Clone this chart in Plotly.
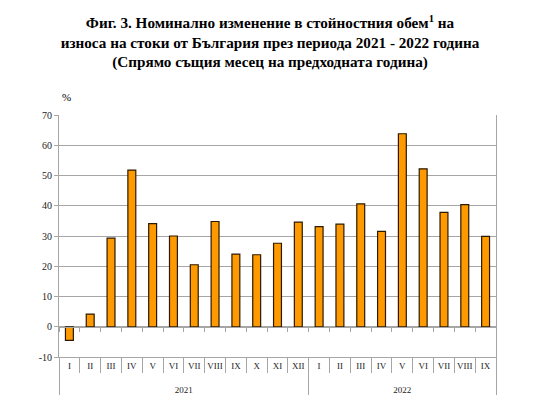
import plotly.graph_objects as go

years = ["<br>2021"] * 12 + ["<br>2022"] * 9
months = ["I", "II", "III", "IV", "V", "VI", "VII", "VIII", "IX", "X", "XI", "XII",
          "I", "II", "III", "IV", "V", "VI", "VII", "VIII", "IX"]
values = [-4.5, 4.2, 29.3, 51.8, 34.1, 30.0, 20.5, 34.8, 24.0, 23.8, 27.6, 34.6,
          33.1, 33.9, 40.6, 31.5, 63.8, 52.2, 37.8, 40.4, 29.9]
y_ticks = [-10, 0, 10, 20, 30, 40, 50, 60, 70]
idx = list(range(len(values)))

serif = "Liberation Serif, Times New Roman, serif"
grid = "#a6a6a6"

fig = go.Figure()
fig.add_trace(go.Bar(
    x=[years, months], y=values,
    marker=dict(color="#ff9900", line=dict(color="#2b1a00", width=1.2)),
    width=0.38, showlegend=False,
))
# invisible helper trace so the zero-line tick axis gets a range
fig.add_trace(go.Scatter(x=idx, y=[0] * len(idx), xaxis="x2", mode="markers",
                         marker=dict(opacity=0), hoverinfo="skip", showlegend=False))

fig.update_layout(
    width=533, height=399,
    margin=dict(l=51, r=45, t=107, b=50, autoexpand=False),
    paper_bgcolor="white", plot_bgcolor="white",
    font=dict(family=serif, size=10, color="#222"),
    title=dict(
        text="<b>Фиг. 3. Номинално изменение в стойностния обем<sup>1</sup> на<br>"
             "износа на стоки от България през периода 2021 - 2022 година<br>"
             "(Спрямо същия месец на предходната година)</b>",
        xref="container", x=0.4916, xanchor="center", y=0.95, yanchor="top",
        font=dict(family=serif, size=15.2, color="black"),
    ),
    xaxis=dict(
        type="multicategory", showline=True, linecolor=grid, linewidth=1,
        ticks="outside", tickson="boundaries", ticklen=15, tickcolor=grid,
        showdividers=True, dividercolor=grid, dividerwidth=1,
        tickangle=0, automargin=False,
        tickfont=dict(family=serif, size=9, color="#222"),
        showgrid=False, mirror=False,
    ),
    xaxis2=dict(
        overlaying="x", anchor="free", position=0.125,
        range=[-0.5, len(values) - 0.5], tick0=-0.5, dtick=1,
        ticks="outside", ticklen=4, tickcolor=grid, showticklabels=False,
        showline=True, linecolor=grid, showgrid=False, zeroline=False,
    ),
    yaxis=dict(
        range=[-10, 70], tickvals=y_ticks, ticktext=[str(v) for v in y_ticks],
        showgrid=True, gridcolor=grid, gridwidth=1,
        zeroline=False, showline=True, linecolor=grid, mirror=True,
        ticks="outside", ticklen=4, tickcolor=grid, automargin=False,
        tickfont=dict(family=serif, size=10, color="#222"),
    ),
    annotations=[dict(
        text="%", xref="paper", yref="paper", x=0.002, y=1.074, xanchor="left",
        yanchor="middle", showarrow=False,
        font=dict(family=serif, size=11, color="black"),
    )],
)

fig.write_html("out.html")
